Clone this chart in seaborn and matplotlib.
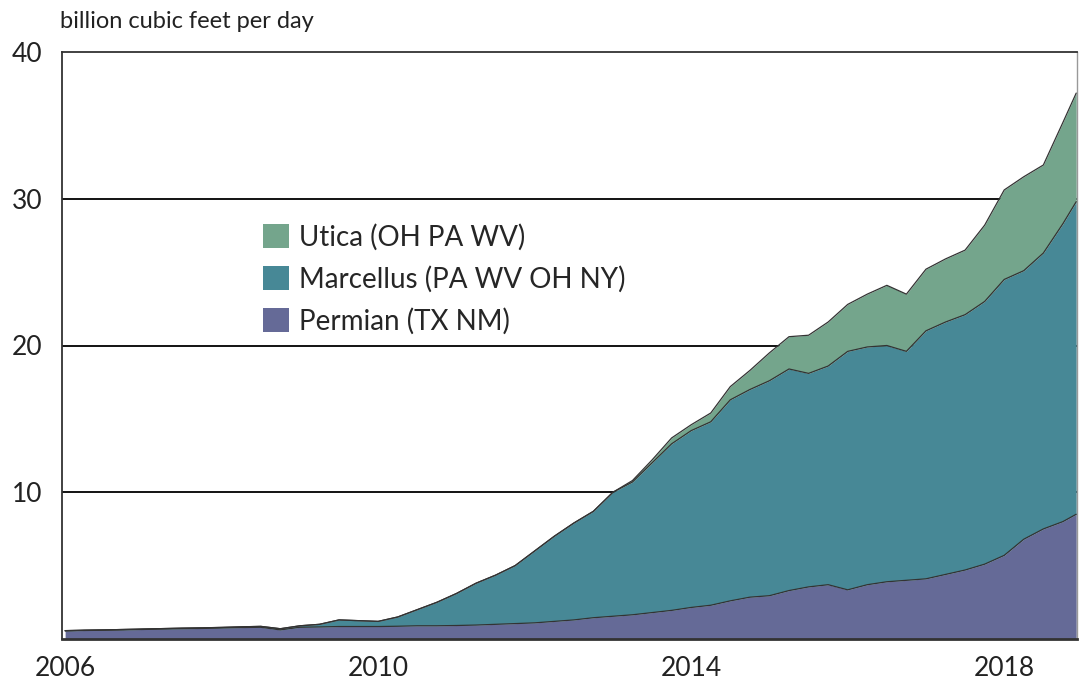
import numpy as np
import pandas as pd
import matplotlib
matplotlib.use("Agg")
import matplotlib.pyplot as plt
import seaborn as sns

# quarterly points, decimal years
years = [2006.0, 2006.25, 2006.5, 2006.75,
         2007.0, 2007.25, 2007.5, 2007.75,
         2008.0, 2008.25, 2008.5, 2008.75,
         2009.0, 2009.25, 2009.5, 2009.75,
         2010.0, 2010.25, 2010.5, 2010.75,
         2011.0, 2011.25, 2011.5, 2011.75,
         2012.0, 2012.25, 2012.5, 2012.75,
         2013.0, 2013.25, 2013.5, 2013.75,
         2014.0, 2014.25, 2014.5, 2014.75,
         2015.0, 2015.25, 2015.5, 2015.75,
         2016.0, 2016.25, 2016.5, 2016.75,
         2017.0, 2017.25, 2017.5, 2017.75,
         2018.0, 2018.25, 2018.5, 2018.75, 2018.92]

# billion cubic feet per day, per play (not cumulative)
permian = [0.55, 0.58, 0.60, 0.62,
           0.65, 0.68, 0.70, 0.72,
           0.75, 0.78, 0.80, 0.62,
           0.80, 0.82, 0.85, 0.85,
           0.85, 0.87, 0.90, 0.90,
           0.92, 0.95, 1.00, 1.05,
           1.10, 1.20, 1.30, 1.45,
           1.55, 1.65, 1.80, 1.95,
           2.15, 2.30, 2.60, 2.85,
           2.95, 3.30, 3.55, 3.70,
           3.35, 3.70, 3.90, 4.00,
           4.10, 4.40, 4.70, 5.10,
           5.70, 6.80, 7.50, 8.00, 8.50]

marcellus = [0.02, 0.02, 0.02, 0.03,
             0.03, 0.03, 0.04, 0.04,
             0.04, 0.05, 0.06, 0.08,
             0.10, 0.18, 0.45, 0.40,
             0.35, 0.63, 1.10, 1.60,
             2.18, 2.85, 3.35, 3.95,
             4.90, 5.80, 6.60, 7.25,
             8.45, 9.05, 10.20, 11.35,
             12.05, 12.50, 13.70, 14.15,
             14.65, 15.10, 14.55, 14.90,
             16.25, 16.20, 16.10, 15.60,
             16.90, 17.20, 17.40, 17.90,
             18.80, 18.30, 18.80, 20.30, 21.30]

utica = [0.0] * 29 + [0.10, 0.20, 0.40,
                      0.40, 0.60, 0.90, 1.30,
                      1.90, 2.20, 2.60, 3.00,
                      3.20, 3.60, 4.10, 3.90,
                      4.20, 4.30, 4.40, 5.20,
                      6.10, 6.40, 6.00, 6.90, 7.40]

labels = ["Permian (TX NM)", "Marcellus (PA WV OH NY)", "Utica (OH PA WV)"]
colors = ["#656a97", "#478896", "#74a58c"]

df = pd.DataFrame({"year": years, "permian": permian,
                   "marcellus": marcellus, "utica": utica})
df["c1"] = df["permian"]
df["c2"] = df["c1"] + df["marcellus"]
df["c3"] = df["c2"] + df["utica"]

sns.set_theme(style="white")
plt.rcParams["font.family"] = ["Lato", "DejaVu Sans"]

fig = plt.figure(figsize=(10.8, 6.89), dpi=100)
ax = fig.add_axes([62 / 1080, 1 - 639 / 689, 1015 / 1080, 587 / 689])

for y in [10, 20, 30]:
    ax.axhline(y, color="black", lw=1.3, zorder=0)

ax.stackplot(df["year"], df["permian"], df["marcellus"], df["utica"],
             colors=colors, labels=labels, zorder=2, lw=0)

# dark outlines on each layer top
for col in ["c1", "c2", "c3"]:
    sns.lineplot(data=df, x="year", y=col, color="#333333", lw=0.9,
                 ax=ax, zorder=3, legend=False)

ax.set_xlim(2005.96, 2018.93)
ax.set_ylim(0, 40)
ax.set_xticks([2006, 2010, 2014, 2018])
ax.set_yticks([10, 20, 30, 40])
ax.set_xlabel("")
ax.set_ylabel("")
ax.tick_params(axis="both", length=0, labelsize=19, colors="#222222")
ax.tick_params(axis="y", pad=14)
ax.tick_params(axis="x", pad=12)

for side in ["left", "top", "right", "bottom"]:
    ax.spines[side].set_visible(True)
    ax.spines[side].set_color("#333333")
ax.spines["left"].set_linewidth(1.3)
ax.spines["top"].set_linewidth(1.3)
ax.spines["bottom"].set_linewidth(2.0)
ax.spines["right"].set_linewidth(1.0)
ax.spines["right"].set_color("#999999")

fig.text(60 / 1080, 1 - 22 / 689, "billion cubic feet per day", fontsize=17,
         va="center", ha="left", color="#222222")

h, l = ax.get_legend_handles_labels()
ax.legend(h[::-1], l[::-1], loc="upper left", bbox_to_anchor=(0.187, 0.727),
          frameon=False, fontsize=20, handlelength=0.95, handleheight=0.95,
          handletextpad=0.35, labelspacing=0.55, borderaxespad=0)

fig.savefig("out.png", dpi=100)
